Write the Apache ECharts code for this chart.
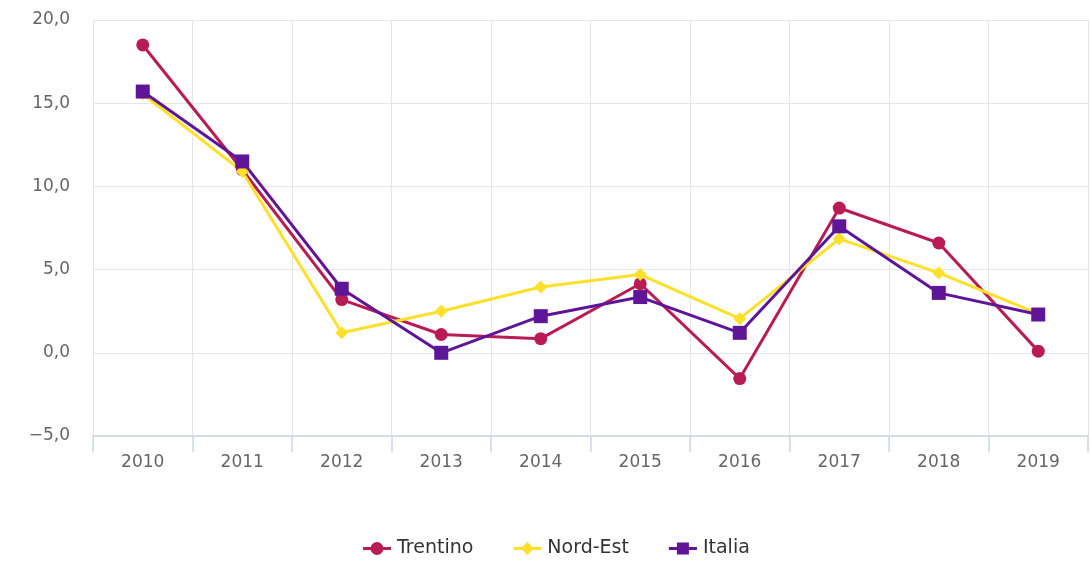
<!DOCTYPE html>
<html><head><meta charset="utf-8">
<script src="https://cdn.jsdelivr.net/npm/echarts@6/dist/echarts.min.js"></script>
<style>html,body{margin:0;padding:0;background:#fff}#c{width:1090px;height:562px}</style>
</head><body><div id="c"></div>
<script>
var categories = ['2010','2011','2012','2013','2014','2015','2016','2017','2018','2019'];
var trentino = [18.5, 11.0, 3.2, 1.1, 0.85, 4.15, -1.55, 8.7, 6.6, 0.1];
var nordEst = [15.55, 10.9, 1.2, 2.5, 3.95, 4.7, 2.05, 6.85, 4.8, 2.35];
var italia = [15.7, 11.5, 3.85, 0.0, 2.2, 3.35, 1.2, 7.6, 3.6, 2.3];
var yTicks = {min: -5, max: 20, interval: 5};

var chart = echarts.init(document.getElementById('c'));
var font = '"DejaVu Sans", Verdana, sans-serif';
function ser(name, data, color, symbol, size) {
  return {name: name, type: 'line', data: data, symbol: symbol, symbolSize: size,
    itemStyle: {color: color}, lineStyle: {color: color, width: 3}, z: 3};
}
var bar = 'M0,5 L28,5 L28,8 L0,8 Z ';
var iconCircle = 'path://' + bar + 'M20.5,6.5 A6.5,6.5 0 1 1 7.5,6.5 A6.5,6.5 0 1 1 20.5,6.5 Z';
var iconDiamond = 'path://' + bar + 'M14,0 L20.5,6.5 L14,13 L7.5,6.5 Z';
var iconRect = 'path://' + bar + 'M8,0.5 L20,0.5 L20,12.5 L8,12.5 Z';
chart.setOption({
  animation: false,
  grid: {left: 93, right: 2, top: 20, bottom: 126},
  legend: {top: 534, left: 358, itemGap: 40, itemWidth: 28, itemHeight: 13,
    textStyle: {fontFamily: font, fontSize: 19, color: '#333', padding: [0, 0, 0, 1]},
    data: [{name: 'Trentino', icon: iconCircle}, {name: 'Nord-Est', icon: iconDiamond}, {name: 'Italia', icon: iconRect}]},
  xAxis: {type: 'category', data: categories, boundaryGap: true,
    axisLine: {onZero: false, lineStyle: {color: '#ccd6eb', width: 1.5}},
    axisTick: {show: true, length: 16, lineStyle: {color: '#ccd6eb', width: 1.5}},
    axisLabel: {color: '#666', fontFamily: font, fontSize: 17, margin: 18},
    splitLine: {show: true, lineStyle: {color: '#e6e6e6', width: 1}}},
  yAxis: {type: 'value', min: yTicks.min, max: yTicks.max, interval: yTicks.interval,
    axisLine: {show: false}, axisTick: {show: false},
    axisLabel: {color: '#666', fontFamily: font, fontSize: 17, margin: 23,
      formatter: function(v){ return v.toFixed(1).replace('.', ',').replace('-', '\u2212'); }},
    splitLine: {lineStyle: {color: '#e6e6e6', width: 1}}},
  series: [
    ser('Trentino', trentino, '#b91c54', 'circle', 13),
    ser('Nord-Est', nordEst, '#fde02a', 'diamond', 13),
    ser('Italia', italia, '#5e1598', 'rect', 14)
  ]
});
</script></body></html>
